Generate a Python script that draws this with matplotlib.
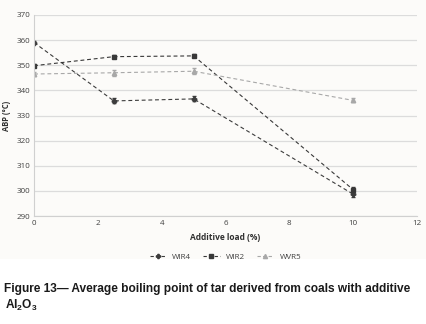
import matplotlib.pyplot as plt
from matplotlib.patches import Rectangle
from matplotlib.lines import Line2D

load = [0, 2.5, 5, 10]
wir4 = [359.0, 335.8, 336.6, 298.7]
wir2 = [349.8, 353.4, 353.7, 300.5]
wvr5 = [346.5, 347.0, 347.6, 336.0]
wir4_err = [0.6, 1.0, 1.0, 1.2]
wir2_err = [0.6, 0.6, 0.6, 1.0]
wvr5_err = [0.8, 1.2, 1.2, 0.8]

plt.rcParams["font.family"] = ["Open Sans", "DejaVu Sans"]
plt.rcParams["mathtext.fontset"] = "custom"
plt.rcParams["mathtext.rm"] = "Liberation Sans:bold"
plt.rcParams["mathtext.it"] = "Liberation Sans:bold"

fig = plt.figure(figsize=(4.26, 3.24), dpi=100)
fig.patch.set_facecolor("white")
fig.add_artist(Rectangle((0, 0.2), 1, 0.8, transform=fig.transFigure,
                         facecolor="#fcfbf9", edgecolor="none", zorder=0))

ax = fig.add_axes([0.080, 0.333, 0.899, 0.621])
ax.set_facecolor("#fcfbf9")

series = [
    ("WIR4", wir4, wir4_err, "P", "#3c3c3c"),
    ("WIR2", wir2, wir2_err, "s", "#383838"),
    ("WVR5", wvr5, wvr5_err, "^", "#a8a8a8"),
]
handles = []
for name, vals, err, mk, col in series:
    ax.errorbar(load, vals, yerr=err, color=col, linestyle=(0, (3.5, 2.5)),
                linewidth=0.8, marker=mk, markersize=3.2, capsize=1.2,
                elinewidth=0.6)
    handles.append(Line2D([], [], color=col, linestyle=(0, (3, 2)),
                          linewidth=0.8, marker=mk, markersize=3, label=name))

ax.set_xlim(0, 12)
ax.set_ylim(290, 370)
ax.set_xticks(range(0, 13, 2))
ax.set_yticks(range(290, 371, 10))
ax.grid(axis="y", color="#dcdcdc", linewidth=0.9)
ax.set_axisbelow(True)
for s in ["top", "right"]:
    ax.spines[s].set_visible(False)
ax.spines["left"].set_color("#d0d0d0")
ax.spines["bottom"].set_color("#d0d0d0")
ax.tick_params(length=0, labelsize=5.8, colors="#404040", pad=3)

ax.set_xlabel("Additive load (%)", fontsize=6, fontweight="bold",
              color="#303030", labelpad=4)
ax.set_ylabel("ABP (°C)", fontsize=5.5, fontweight="bold", color="#303030",
              labelpad=4)

ax.legend(handles=handles, loc="upper center", bbox_to_anchor=(0.5, -0.15),
          ncol=3, frameon=False, fontsize=5.8, handlelength=2.0,
          columnspacing=1.5, labelcolor="#404040")

fig.text(0.01, 0.098, "Figure 13\u2014 Average boiling point of tar derived from coals with additive",
         fontsize=8.6, fontweight="bold", family="Liberation Sans", color="#1a1a1a")
fig.text(0.012, 0.046, r"Al$_2$O$_3$", fontsize=8.6, fontweight="bold",
         family="Liberation Sans", color="#1a1a1a")

fig.savefig("out.png", dpi=100)
